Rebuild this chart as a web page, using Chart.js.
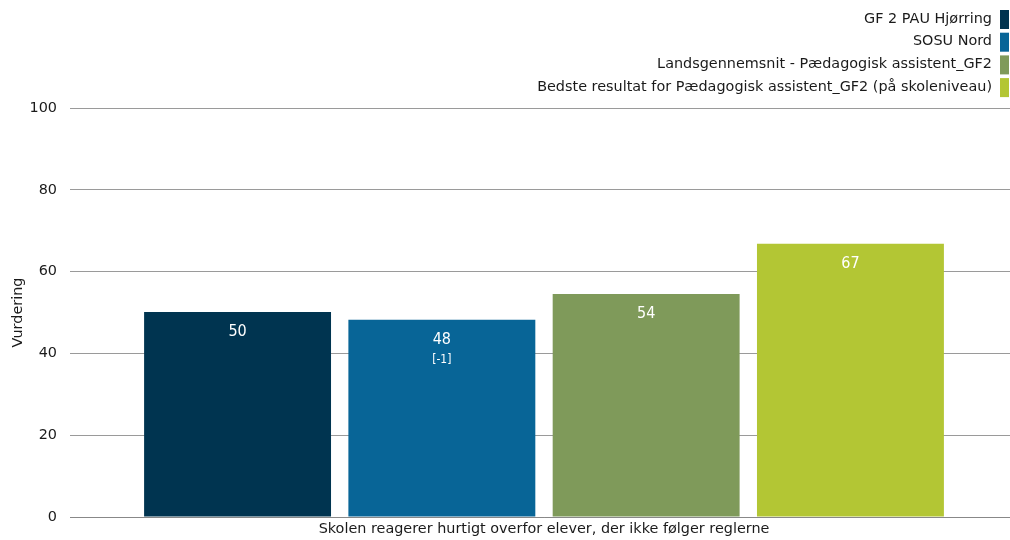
<!DOCTYPE html>
<html>
<head>
<meta charset="utf-8">
<script src="https://cdn.jsdelivr.net/npm/chart.js@4/dist/chart.umd.min.js"></script>
<style>
html,body{margin:0;padding:0;background:#fff;overflow:hidden;}
#wrap{width:1018px;height:540px;position:relative;}
</style>
</head>
<body>
<div id="wrap"><canvas id="c"></canvas></div>
<script>
const categories = ['Skolen reagerer hurtigt overfor elever, der ikke følger reglerne'];
const seriesNames = ['GF 2 PAU Hjørring', 'SOSU Nord', 'Landsgennemsnit - Pædagogisk assistent_GF2', 'Bedste resultat for Pædagogisk assistent_GF2 (på skoleniveau)'];
const seriesValues = [[50.1], [48.2], [54.5], [66.8]];
const valueLabels = ['50', '48', '54', '67'];
const diffLabels = ['', '[-1]', '', ''];
const seriesColors = ['#003450', '#086597', '#7f9a5a', '#b3c634'];
const yTicks = [0, 20, 40, 60, 80, 100];
const yTitle = 'Vurdering';

const FONT = "'DejaVu Sans', Verdana, sans-serif";
const LABEL_FONT = "'DejaVu Sans Condensed', 'Liberation Sans Narrow', 'DejaVu Sans', sans-serif";

const legendPlugin = {
  id: 'rightLegend',
  afterDraw(chart) {
    const ctx = chart.ctx;
    ctx.save();
    ctx.font = '14.4px ' + FONT;
    ctx.textAlign = 'right';
    ctx.textBaseline = 'middle';
    chart.data.datasets.forEach((ds, i) => {
      const cy = 19 + i * 22.7;
      ctx.fillStyle = '#1a1a1a';
      ctx.fillText(ds.label, 992, cy);
      ctx.fillStyle = ds.backgroundColor;
      ctx.fillRect(1000, cy - 9, 9, 19);
    });
    ctx.restore();
  }
};

const barLabelPlugin = {
  id: 'barLabels',
  afterDatasetsDraw(chart) {
    const ctx = chart.ctx;
    ctx.save();
    ctx.textAlign = 'center';
    ctx.textBaseline = 'middle';
    ctx.fillStyle = '#ffffff';
    chart.data.datasets.forEach((ds, i) => {
      const meta = chart.getDatasetMeta(i);
      meta.data.forEach((bar) => {
        ctx.font = '16px ' + LABEL_FONT;
        ctx.fillText(valueLabels[i], bar.x, bar.y + 20);
        if (diffLabels[i]) {
          ctx.font = '12px ' + LABEL_FONT;
          ctx.fillText(diffLabels[i], bar.x, bar.y + 40);
        }
      });
    });
    ctx.restore();
  }
};

new Chart(document.getElementById('c'), {
  type: 'bar',
  data: {
    labels: categories,
    datasets: seriesNames.map((n, i) => ({
      label: n,
      data: seriesValues[i],
      backgroundColor: seriesColors[i],
      borderWidth: 0,
      barPercentage: 0.915,
      categoryPercentage: 0.862
    }))
  },
  options: {
    responsive: true,
    maintainAspectRatio: false,
    animation: false,
    layout: { padding: { top: 108, right: 0, left: 0, bottom: 0 } },
    plugins: {
      legend: { display: false },
      tooltip: { enabled: false }
    },
    scales: {
      x: {
        grid: { display: false, drawTicks: false },
        border: { display: true, color: '#888' },
        ticks: { color: '#1a1a1a', font: { family: FONT, size: 14.4 }, padding: 4, maxRotation: 0 },
        afterFit(s) { s.height = 23; }
      },
      y: {
        min: 0, max: 100,
        afterBuildTicks(s) { s.ticks = yTicks.map(v => ({ value: v })); },
        grid: { color: '#9a9a9a', drawTicks: false },
        border: { display: false },
        ticks: { color: '#1a1a1a', font: { family: FONT, size: 14.4 }, padding: 13 },
        title: { display: true, text: yTitle, color: '#1a1a1a', font: { family: FONT, size: 14.4 }, padding: { top: 10, bottom: 0 } },
        afterFit(s) { s.width = 70; }
      }
    }
  },
  plugins: [legendPlugin, barLabelPlugin]
});
</script>
</body>
</html>
